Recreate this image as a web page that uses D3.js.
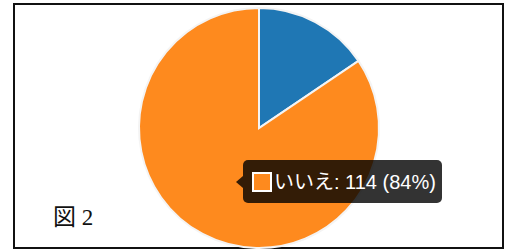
<!DOCTYPE html>
<html>
<head>
<meta charset="utf-8">
<script src="https://cdn.jsdelivr.net/npm/d3@7"></script>
<style>
  body { margin: 0; background: #fff; }
  svg { display: block; }
</style>
</head>
<body>
<svg id="chart"></svg>
<script>
const width = 506;
const height = 251;

// data
const labels = ["はい", "いいえ"];
const counts = [21, 114];
const colors = ["#1f77b4", "#fe8a1e"];
const caption = "図 2";

const svg = d3.select("#chart").attr("width", width).attr("height", height);

// frame
svg.append("rect")
  .attr("x", 14).attr("y", 4)
  .attr("width", 489).attr("height", 244)
  .attr("fill", "#fff")
  .attr("stroke", "#111")
  .attr("stroke-width", 2);

const data = labels.map((l, i) => ({ label: l, value: counts[i] }));
const total = d3.sum(counts);

const color = d3.scaleOrdinal().domain(labels).range(colors);

const pie = d3.pie().value(d => d.value).sort(null);
const arc = d3.arc().innerRadius(0).outerRadius(120);

const g = svg.append("g").attr("transform", "translate(259,128)");

g.selectAll("path.slice")
  .data(pie(data))
  .enter().append("path")
  .attr("class", "slice")
  .attr("d", arc)
  .attr("fill", d => color(d.data.label))
  .attr("stroke", "#f4f4f4")
  .attr("stroke-width", 2);

// caption
svg.append("text")
  .attr("x", 53).attr("y", 225)
  .attr("font-family", "'Liberation Serif', 'Noto Sans CJK JP', serif")
  .attr("font-size", 23)
  .attr("fill", "#111")
  .text(caption);

// tooltip for "いいえ"
const hover = data[1];
const tip = svg.append("g").attr("transform", "translate(243,160)");
tip.append("rect")
  .attr("width", 199).attr("height", 43)
  .attr("rx", 5)
  .attr("fill", "rgba(0,0,0,0.8)");
tip.append("path")
  .attr("d", "M0,16 L-7,22 L0,28 Z")
  .attr("fill", "rgba(0,0,0,0.8)");
tip.append("rect")
  .attr("x", 10).attr("y", 13)
  .attr("width", 18).attr("height", 18)
  .attr("fill", color(hover.label))
  .attr("stroke", "#fff")
  .attr("stroke-width", 2);
tip.append("text")
  .attr("x", 31).attr("y", 29)
  .attr("font-family", "'Liberation Sans', 'Noto Sans CJK JP', sans-serif")
  .attr("font-size", 20)
  .attr("fill", "#fff")
  .text(`${hover.label}: ${hover.value} (${Math.round(hover.value / total * 100)}%)`);
</script>
</body>
</html>
